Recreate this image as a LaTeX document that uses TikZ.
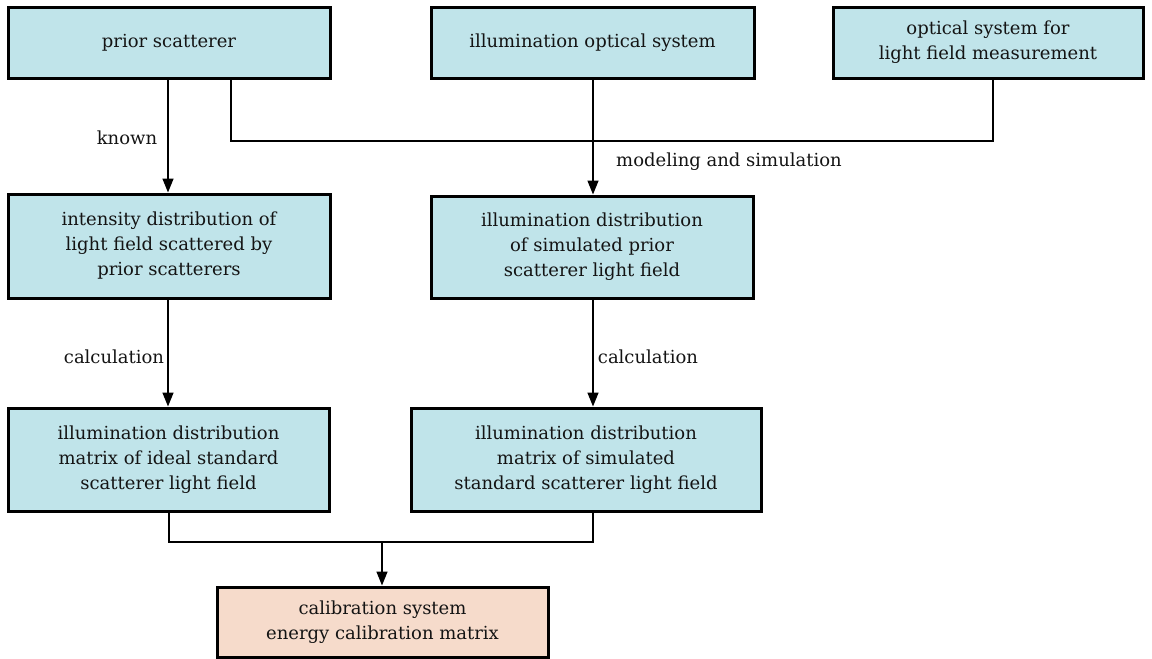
\documentclass[tikz,border=0pt]{standalone}
\usepackage{fontspec}
\setmainfont{DejaVu Serif}
\usetikzlibrary{arrows.meta}
\definecolor{boxblue}{HTML}{C0E4EA}
\definecolor{boxorange}{HTML}{F6DBCB}
\begin{document}
\begin{tikzpicture}[x=1pt,y=-1pt,
  box/.style={draw=black,line width=3pt,fill=boxblue,rectangle,inner sep=0pt,align=center,
     font=\fontsize{18}{25}\selectfont,text=black!92},
  conn/.style={line width=1.5pt},
  arr/.style={conn,-{Triangle[length=14pt,width=11pt]}},
  lbl/.style={font=\fontsize{18}{25}\selectfont,text=black!92,inner sep=0pt}]
\useasboundingbox (0,0) rectangle (1152,659);
\node[box,minimum width=322pt,minimum height=71pt] (ps) at (169,42.5) {prior scatterer};
\node[box,minimum width=323pt,minimum height=71pt] (ios) at (592.5,42.5) {illumination optical system};
\node[box,minimum width=310pt,minimum height=71pt] (osm) at (988,42.5) {optical system for\\light field measurement};
\node[box,minimum width=322pt,minimum height=104pt] (id) at (169,246) {intensity distribution of\\light field scattered by\\prior scatterers};
\node[box,minimum width=322pt,minimum height=102pt] (isp) at (592,247) {illumination distribution\\of simulated prior\\scatterer light field};
\node[box,minimum width=321pt,minimum height=103pt] (mis) at (168.5,459.5) {illumination distribution\\matrix of ideal standard\\scatterer light field};
\node[box,minimum width=350pt,minimum height=103pt] (mss) at (586,459.5) {illumination distribution\\matrix of simulated\\standard scatterer light field};
\node[box,fill=boxorange,minimum width=331pt,minimum height=70pt] (cal) at (382.5,622) {calibration system\\energy calibration matrix};
\coordinate (j1) at (231,141);
\coordinate (j2) at (993,141);
\coordinate (j3) at (382,542);
\draw[arr] (ps.south -| 168,0) -- (id.north -| 168,0);
\draw[conn] (ps.south -| j1) -- (j1) -- (j2) -- (osm.south -| j2);
\draw[arr] (ios.south -| 593,0) -- (isp.north -| 593,0);
\draw[arr] (id.south -| 168,0) -- (mis.north -| 168,0);
\draw[arr] (isp.south -| 593,0) -- (mss.north -| 593,0);
\draw[conn] (mis.south -| 169,0) -- (169,542) -- (593,542) -- (mss.south -| 593,0);
\draw[arr] (j3) -- (cal.north -| j3);
\node[lbl] (k) at (127,138) {known};
\node[lbl] (m) at (729,162) {modeling and simulation};
\node[lbl] (c1) at (114,357) {calculation};
\node[lbl] (c2) at (648,357) {calculation};
\end{tikzpicture}
\end{document}
